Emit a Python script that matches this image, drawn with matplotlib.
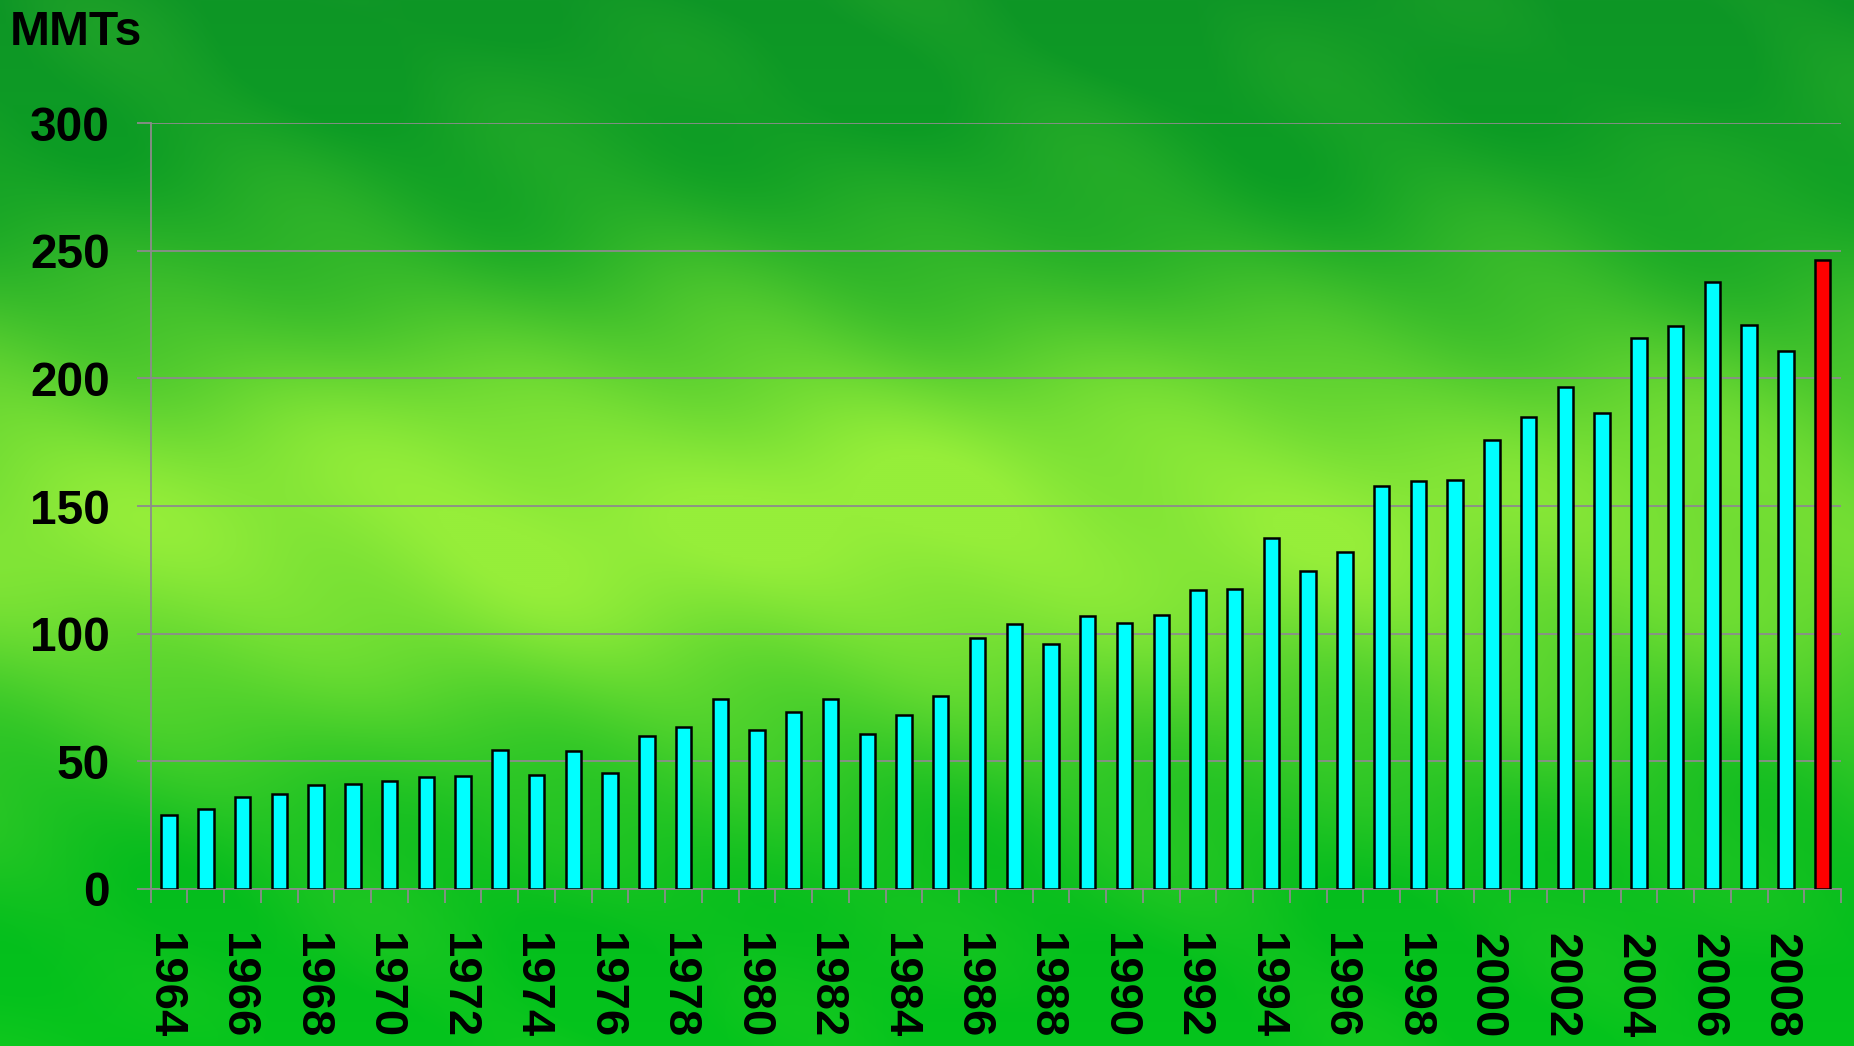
import numpy as np
import matplotlib
matplotlib.use("Agg")
import matplotlib.pyplot as plt

plt.rcParams['font.family'] = ['Liberation Sans', 'DejaVu Sans']

# annual volume, million metric tons
years = list(range(1964, 2010))
values = [28.8, 31.2, 35.9, 37.4, 40.9, 41.2, 42.4, 43.7, 44.2, 54.4,
          44.5, 53.9, 45.6, 60.1, 63.6, 74.6, 62.4, 69.2, 74.6, 60.6,
          68.0, 75.6, 98.2, 103.7, 95.9, 107.0, 104.3, 107.3, 117.1, 117.6,
          137.6, 124.6, 132.0, 158.0, 159.8, 160.3, 175.7, 184.7, 196.7, 186.4,
          215.8, 220.5, 237.7, 221.0, 210.6, 246.2]
highlight_year = 2009
y_ticks = [0, 50, 100, 150, 200, 250, 300]
unit_label = "MMTs"


def Backdrop(h=523, w=927):
	"""green slide backdrop: darker at top and bottom, lime glow in the middle"""
	yy, xx = np.mgrid[0:1:h * 1j, 0:1:w * 1j]
	top = np.array([14, 150, 38]) / 255.
	bottom = np.array([4, 196, 28]) / 255.
	lime = np.array([150, 238, 58]) / 255.
	t = yy[..., None]
	base = top * (1 - t) + bottom * t
	glow = np.exp(-((yy - 0.5) / 0.22) ** 2) * (1 - 0.3 * ((xx - 0.42) / 0.6) ** 2)
	# soft mottling
	glow += 0.06 * np.sin(xx * 23 + yy * 7) * np.cos(yy * 19 - xx * 5)
	glow += 0.04 * np.sin(xx * 41 - yy * 29)
	glow = np.clip(glow, 0, 1)[..., None]
	return base * (1 - glow) + lime * glow


fig = plt.figure(figsize=(18.54, 10.46), dpi=100)
bg = fig.add_axes([0, 0, 1, 1], zorder=0)
bg.imshow(Backdrop(), aspect='auto', extent=[0, 1, 0, 1], interpolation='bilinear')
bg.axis('off')

ax = fig.add_axes([0.0813, 0.1501, 0.9117, 0.7323], zorder=1)
ax.patch.set_alpha(0)

x = np.arange(len(years))
colors = ['#ff0000' if y == highlight_year else '#00ffff' for y in years]
ax.bar(x, values, width=0.42, color=colors, edgecolor='black', linewidth=1.8, zorder=3)

grid_c = '#8c8c8c'
ax.set_xlim(-0.5, len(years) - 0.5)
ax.set_ylim(0, 300)
ax.set_yticks(y_ticks)
ax.yaxis.grid(True, color=grid_c, linewidth=1.3, zorder=1)
ax.set_axisbelow(True)

for s in ['top', 'right']:
	ax.spines[s].set_visible(False)
for s in ['left', 'bottom']:
	ax.spines[s].set_color(grid_c)
	ax.spines[s].set_linewidth(1.3)

ax.set_yticklabels([str(v) for v in y_ticks], fontsize=34.5, fontweight='bold')
ax.tick_params(axis='y', length=10, width=1.3, color=grid_c, pad=19.5)

# year labels on every other bar (invisible major ticks nudged so the rotated
# glyphs sit centred under the bars), boundary ticks between bars
ax.set_xticks(x[::2] - 0.15)
ax.set_xticklabels([str(y) for y in years[::2]], rotation=-90, fontsize=34,
                   fontweight='bold', va='top', ha='center')
ax.set_xticks(np.arange(len(years) + 1) - 0.5, minor=True)
ax.tick_params(axis='x', which='major', length=0, pad=32)
ax.tick_params(axis='x', which='minor', length=10, width=1.3, color=grid_c)

fig.text(10 / 1854, 1 - 10 / 1046, unit_label, fontsize=34.5, fontweight='bold',
         ha='left', va='top')

fig.savefig('out.png', dpi=100)
